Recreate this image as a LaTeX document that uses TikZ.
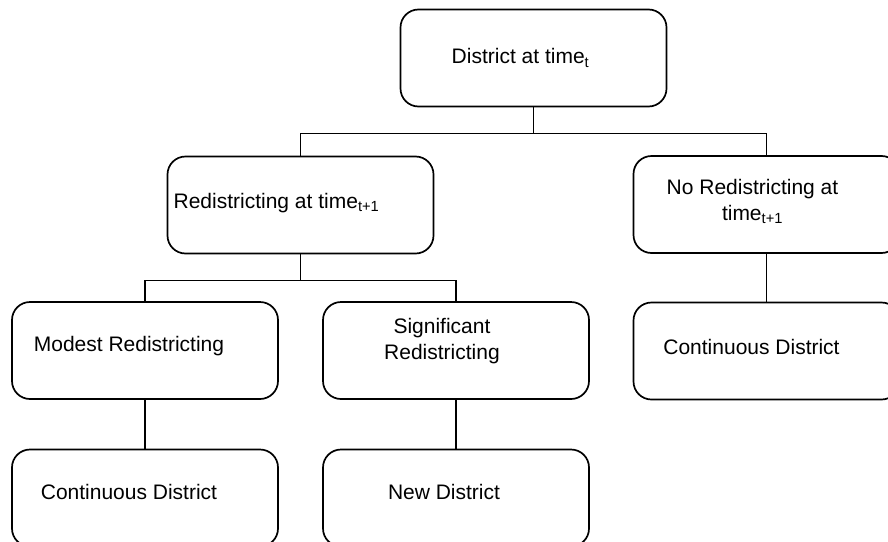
\documentclass[tikz,border=0pt]{standalone}
\usepackage{fontspec}
\setmainfont{Liberation Sans}
\usepackage{tikz}

\tikzset{
	box/.style = {draw, line width=1.7pt, rounded corners=18pt, minimum width=266pt, minimum height=97pt, inner sep=0pt},
	boxtext/.style = {font=\fontsize{21}{26}\selectfont, align=center, inner sep=0pt},
	link/.style = {line width=1.7pt}
}

\begin{document}
\begin{tikzpicture}[x=1pt, y=-1pt]
		\clip (0,0) rectangle (888,541);

		\node[box] (top) at (533.5, 58) {};
		\node[boxtext, xshift=-13pt] (topText) at (top.center) {District at time\textsubscript{t}};

		\node[box] (redist) at (300.5, 205) {};
		\node[boxtext, xshift=-24pt, yshift=2pt] (redistText) at (redist.center) {Redistricting at time\textsubscript{t+1}};

		\node[box] (noredist) at (766.5, 204.5) {};
		\node[boxtext, xshift=-14pt, yshift=3pt] (noredistText) at (noredist.center) {No Redistricting at\\time\textsubscript{t+1}};

		\node[box] (modest) at (145, 350.5) {};
		\node[boxtext, xshift=-16pt, yshift=4pt] (modestText) at (modest.center) {Modest Redistricting};

		\node[box] (signif) at (456, 350.5) {};
		\node[boxtext, xshift=-14pt, yshift=9pt] (signifText) at (signif.center) {Significant\\Redistricting};

		\node[box] (contright) at (766.5, 351) {};
		\node[boxtext, xshift=-15pt, yshift=4pt] (contrightText) at (contright.center) {Continuous District};

		\node[box] (contleft) at (145, 498) {};
		\node[boxtext, xshift=-16pt, yshift=6pt] (contleftText) at (contleft.center) {Continuous District};

		\node[box] (newdist) at (456, 498) {};
		\node[boxtext, xshift=-12pt, yshift=6pt] (newdistText) at (newdist.center) {New District};

		% tree connectors
		\draw[link] (top.south) -- ++(0,26) coordinate (topJoin) -| (redist.north);
		\draw[link] (topJoin) -| (noredist.north);
		\draw[link] (redist.south) -- ++(0,26) coordinate (redistJoin) -| (modest.north);
		\draw[link] (redistJoin) -| (signif.north);
		\draw[link] (noredist.south) -- (contright.north);
		\draw[link] (modest.south) -- (contleft.north);
		\draw[link] (signif.south) -- (newdist.north);

	\end{tikzpicture}
\end{document}
